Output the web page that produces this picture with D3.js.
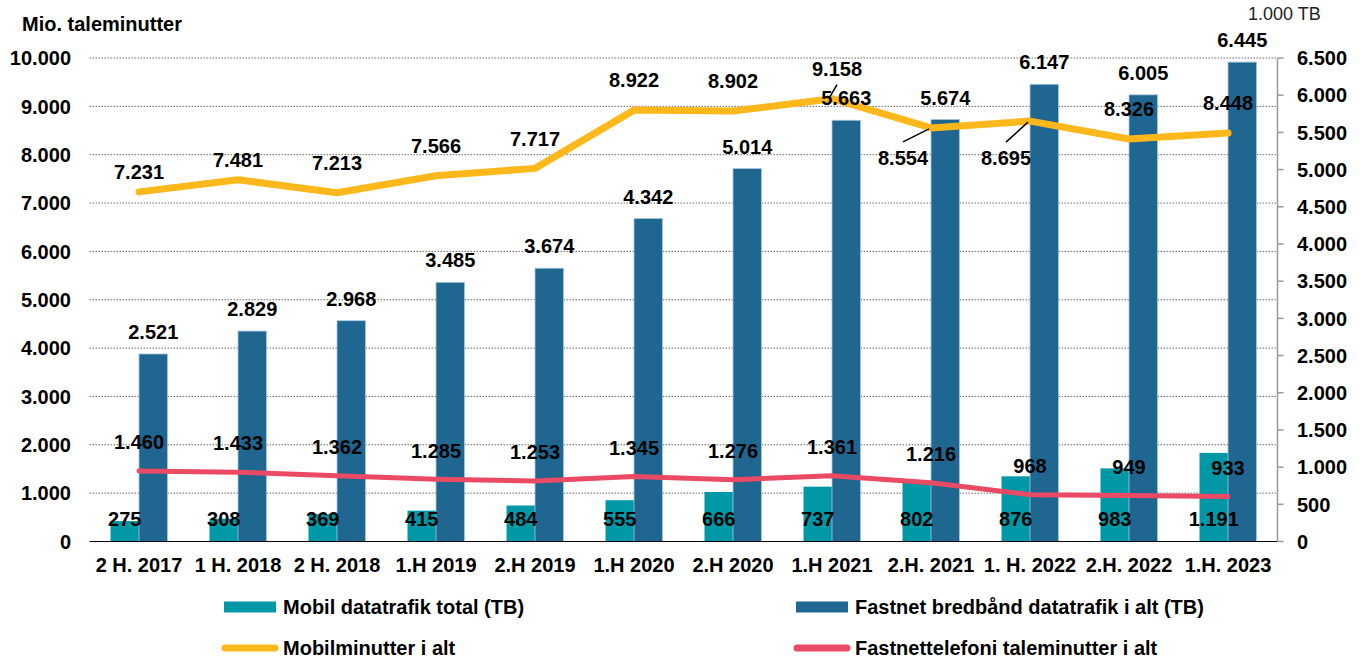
<!DOCTYPE html>
<html>
<head>
<meta charset="utf-8">
<script src="https://cdn.jsdelivr.net/npm/d3@7"></script>
<style>
  html, body { margin: 0; padding: 0; background: #fff; }
  svg { display: block; font-family: "Liberation Sans", Arial, sans-serif; }
</style>
</head>
<body>
<svg id="chart" width="1360" height="659"></svg>
<script>
// data
const categories = ["2 H. 2017", "1 H. 2018", "2 H. 2018", "1.H 2019", "2.H 2019", "1.H 2020",
  "2.H 2020", "1.H 2021", "2.H. 2021", "1. H. 2022", "2.H. 2022", "1.H. 2023"];
const mobilData = [275, 308, 369, 415, 484, 555, 666, 737, 802, 876, 983, 1191];
const fastnetData = [2521, 2829, 2968, 3485, 3674, 4342, 5014, 5663, 5674, 6147, 6005, 6445];
const mobilMinutter = [7231, 7481, 7213, 7566, 7717, 8922, 8902, 9158, 8554, 8695, 8326, 8448];
const fastnetMinutter = [1460, 1433, 1362, 1285, 1253, 1345, 1276, 1361, 1216, 968, 949, 933];
const leftTicks = [0, 1000, 2000, 3000, 4000, 5000, 6000, 7000, 8000, 9000, 10000];
const rightTicks = [0, 500, 1000, 1500, 2000, 2500, 3000, 3500, 4000, 4500, 5000, 5500, 6000, 6500];

// manual placement of a few orange labels (dx, dy from the point; leader = draw a line)
const mobilLabelPlace = {
  0: { dx: 0, dy: -20 },
  1: { dx: 0, dy: -20 },
  7: { dx: 5, dy: -30, leader: true },
  8: { dx: -28, dy: 30, leader: true },
  9: { dx: -24, dy: 37, leader: true }
};

const C = {
  teal: "#0098a6",
  blue: "#1f6690",
  orange: "#ffb81c",
  red: "#eb4a64"
};

const fmt = v => d3.format(",")(v).replace(/,/g, ".");

const svg = d3.select("#chart");
const x0 = 89.5, x1 = 1277.5, yTop = 58, yBot = 541.5;

const x = d3.scaleBand().domain(categories).range([x0, x1]);
const yL = d3.scaleLinear().domain([0, 10000]).range([yBot, yTop]);
const yR = d3.scaleLinear().domain([0, 6500]).range([yBot, yTop]);
const barW = 28.5;
const cx = d => x(d) + x.bandwidth() / 2;

// gridlines
svg.append("g").selectAll("line")
  .data(leftTicks.filter(t => t > 0))
  .join("line")
  .attr("x1", x0).attr("x2", x1)
  .attr("y1", d => yL(d)).attr("y2", d => yL(d))
  .attr("stroke", "#444").attr("stroke-width", 0.8)
  .attr("stroke-dasharray", "1.5,1.5");

// bars
svg.append("g").selectAll("rect")
  .data(categories)
  .join("rect")
  .attr("x", d => cx(d) - barW)
  .attr("y", (d, i) => yR(mobilData[i]))
  .attr("width", barW)
  .attr("height", (d, i) => yBot - yR(mobilData[i]))
  .attr("fill", C.teal);

svg.append("g").selectAll("rect")
  .data(categories)
  .join("rect")
  .attr("x", d => cx(d))
  .attr("y", (d, i) => yR(fastnetData[i]))
  .attr("width", barW)
  .attr("height", (d, i) => yBot - yR(fastnetData[i]))
  .attr("fill", C.blue)
  .attr("stroke", "#a9c8dc").attr("stroke-width", 0.8);

// lines
const line = d3.line()
  .x((d, i) => cx(categories[i]))
  .y(d => yL(d));

svg.append("path").datum(mobilMinutter)
  .attr("d", line).attr("fill", "none")
  .attr("stroke", C.orange).attr("stroke-width", 7)
  .attr("stroke-linecap", "round").attr("stroke-linejoin", "round");

svg.append("path").datum(fastnetMinutter)
  .attr("d", line).attr("fill", "none")
  .attr("stroke", C.red).attr("stroke-width", 5)
  .attr("stroke-linecap", "round").attr("stroke-linejoin", "round");

// x axis line
svg.append("line")
  .attr("x1", x0).attr("x2", x1).attr("y1", yBot).attr("y2", yBot)
  .attr("stroke", "#000").attr("stroke-width", 1.2);

// right axis
svg.append("line")
  .attr("x1", x1).attr("x2", x1).attr("y1", yTop).attr("y2", yBot)
  .attr("stroke", "#999").attr("stroke-width", 1.5);
svg.append("g").selectAll("line")
  .data(rightTicks)
  .join("line")
  .attr("x1", x1).attr("x2", x1 + 6)
  .attr("y1", d => yR(d)).attr("y2", d => yR(d))
  .attr("stroke", "#999").attr("stroke-width", 1.5);

const boldText = (g, size) => g.attr("font-weight", "bold").attr("font-size", size).attr("fill", "#000");

svg.append("g").call(boldText, 20).selectAll("text")
  .data(rightTicks)
  .join("text")
  .attr("x", 1297).attr("y", d => yR(d)).attr("dy", "0.36em")
  .text(fmt);

svg.append("g").call(boldText, 20).selectAll("text")
  .data(leftTicks)
  .join("text")
  .attr("x", 71).attr("y", d => yL(d)).attr("dy", "0.36em")
  .attr("text-anchor", "end")
  .text(fmt);

svg.append("g").call(boldText, 20).selectAll("text")
  .data(categories)
  .join("text")
  .attr("x", cx).attr("y", 572)
  .attr("text-anchor", "middle")
  .text(d => d);

// titles
svg.append("text").call(boldText, 20)
  .attr("x", 22).attr("y", 31).text("Mio. taleminutter");
svg.append("text").attr("font-size", 18).attr("fill", "#222")
  .attr("x", 1248).attr("y", 20).text("1.000 TB");

// data labels
const labels = svg.append("g").call(boldText, 20).attr("text-anchor", "middle");

labels.append("g").selectAll("text")
  .data(categories)
  .join("text")
  .attr("x", d => cx(d) - barW / 2)
  .attr("y", yBot - 23).attr("dy", "0.36em")
  .text((d, i) => fmt(mobilData[i]));

labels.append("g").selectAll("text")
  .data(categories)
  .join("text")
  .attr("x", d => cx(d) + barW / 2)
  .attr("y", (d, i) => yR(fastnetData[i]) - 22).attr("dy", "0.36em")
  .text((d, i) => fmt(fastnetData[i]));

labels.append("g").selectAll("text")
  .data(categories)
  .join("text")
  .attr("x", d => cx(d))
  .attr("y", (d, i) => yL(fastnetMinutter[i]) - 29).attr("dy", "0.36em")
  .text((d, i) => fmt(fastnetMinutter[i]));

const leaders = svg.append("g").attr("stroke", "#000").attr("stroke-width", 1.5);
categories.forEach((c, i) => {
  const p = mobilLabelPlace[i] || { dx: 0, dy: -30 };
  const px = cx(c), py = yL(mobilMinutter[i]);
  const lx = px + p.dx, ly = py + p.dy;
  labels.append("text")
    .attr("x", lx).attr("y", ly).attr("dy", "0.36em")
    .text(fmt(mobilMinutter[i]));
  if (p.leader) {
    const sy = p.dy > 0 ? ly - 16 : ly + 16;
    leaders.append("line")
      .attr("x1", lx).attr("y1", sy)
      .attr("x2", px - 2).attr("y2", p.dy > 0 ? py + 1 : py - 2);
  }
});

// legend
const legend = svg.append("g");
const legendItems = [
  { name: "Mobil datatrafik total (TB)", color: C.teal, type: "rect", x: 224, y: 607 },
  { name: "Fastnet bredbånd datatrafik i alt (TB)", color: C.blue, type: "rect", x: 796, y: 607 },
  { name: "Mobilminutter i alt", color: C.orange, type: "line", x: 224, y: 648 },
  { name: "Fastnettelefoni taleminutter i alt", color: C.red, type: "line", x: 796, y: 648 }
];
legendItems.forEach(it => {
  if (it.type === "rect") {
    legend.append("rect").attr("x", it.x).attr("y", it.y - 5.5)
      .attr("width", 52).attr("height", 11).attr("fill", it.color);
  } else {
    legend.append("line").attr("x1", it.x + 1).attr("x2", it.x + 51)
      .attr("y1", it.y).attr("y2", it.y)
      .attr("stroke", it.color).attr("stroke-width", 7).attr("stroke-linecap", "round");
  }
  legend.append("text").call(boldText, 20)
    .attr("x", it.x + 59).attr("y", it.y).attr("dy", "0.36em")
    .text(it.name);
});
</script>
</body>
</html>
